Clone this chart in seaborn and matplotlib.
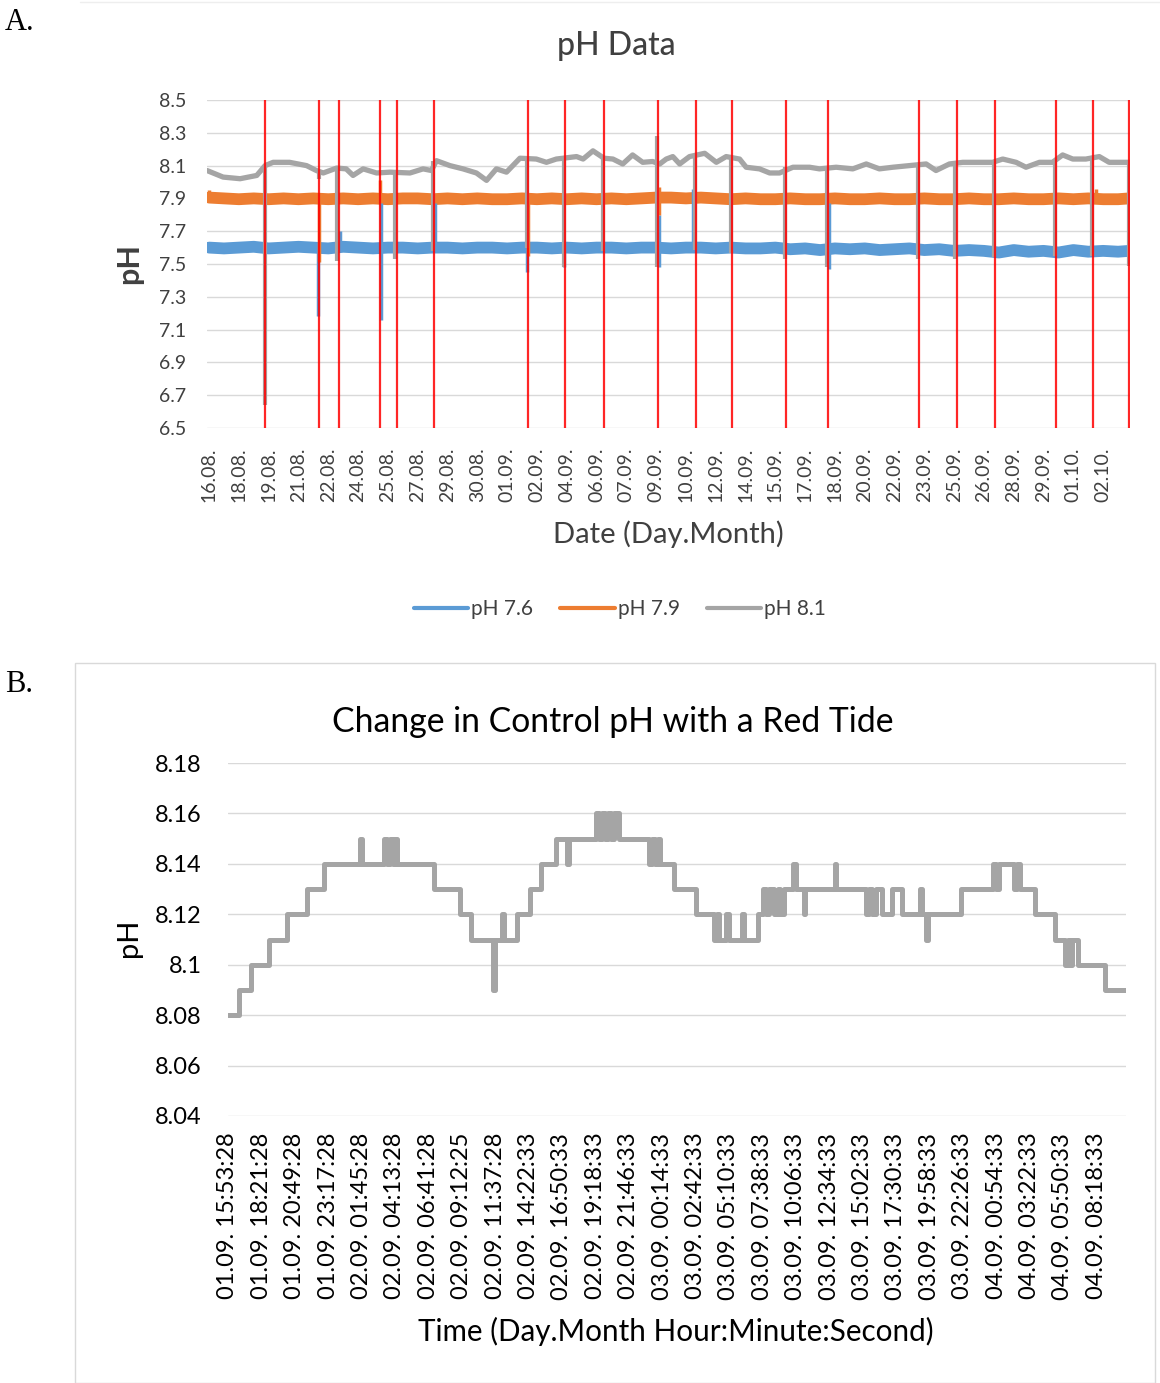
import numpy as np
import pandas as pd
import seaborn as sns
import matplotlib.pyplot as plt
from matplotlib.lines import Line2D
from matplotlib.patches import Rectangle

sns.set_theme(style="white")
plt.rcParams['font.family'] = ['Lato', 'DejaVu Sans']

# ---------------- panel A: pH of the three treatments ----------------
# x is measured in "date label" steps (label k sits at x = k)
date_labels = ['16.08.', '18.08.', '19.08.', '21.08.', '22.08.', '24.08.', '25.08.', '27.08.',
               '29.08.', '30.08.', '01.09.', '02.09.', '04.09.', '06.09.', '07.09.', '09.09.',
               '10.09.', '12.09.', '14.09.', '15.09.', '17.09.', '18.09.', '20.09.', '22.09.',
               '23.09.', '25.09.', '26.09.', '28.09.', '29.09.', '01.10.', '02.10.']

half_steps = [0, 0.5, 1, 1.5, 2, 2.5, 3, 3.5, 4, 4.5, 5, 5.5, 6, 6.5, 7, 7.5, 8, 8.5, 9, 9.5,
              10, 10.5, 11, 11.5, 12, 12.5, 13, 13.5, 14, 14.5, 15, 15.5, 16, 16.5, 17, 17.5,
              18, 18.5, 19, 19.5, 20, 20.5, 21, 21.5, 22, 22.5, 23, 23.5, 24, 24.5, 25, 25.5,
              26, 26.5, 27, 27.5, 28, 28.5, 29, 29.5, 30, 30.5, 30.87]

ph76 = [7.60, 7.595, 7.60, 7.605, 7.595, 7.60, 7.605, 7.60, 7.595, 7.605, 7.60,
        7.595, 7.60, 7.60, 7.595, 7.60, 7.60, 7.595, 7.60, 7.60, 7.595,
        7.60, 7.60, 7.595, 7.60, 7.595, 7.60, 7.60, 7.595, 7.60, 7.60,
        7.595, 7.60, 7.60, 7.595, 7.60, 7.595, 7.595, 7.60, 7.59, 7.595,
        7.585, 7.595, 7.59, 7.595, 7.585, 7.59, 7.595, 7.585, 7.59, 7.58,
        7.585, 7.58, 7.57, 7.585, 7.575, 7.58, 7.57, 7.585, 7.575, 7.58, 7.575,
        7.58]

ph79 = [7.905, 7.90, 7.895, 7.90, 7.895, 7.90, 7.895, 7.90, 7.895, 7.90, 7.895,
        7.90, 7.895, 7.90, 7.90, 7.895, 7.90, 7.895, 7.90, 7.895, 7.895,
        7.90, 7.895, 7.90, 7.895, 7.90, 7.895, 7.90, 7.895, 7.90, 7.905,
        7.905, 7.90, 7.905, 7.90, 7.895, 7.90, 7.895, 7.895, 7.90, 7.895,
        7.895, 7.90, 7.895, 7.895, 7.90, 7.895, 7.895, 7.90, 7.895, 7.895,
        7.90, 7.895, 7.895, 7.90, 7.895, 7.895, 7.90, 7.895, 7.90, 7.895, 7.895,
        7.90]

ph81_x = [-0.07, 0.47, 1.04, 1.6, 1.88, 2.15, 2.7, 3.27, 3.6, 3.83, 4.28, 4.6, 4.83, 5.17,
          5.62, 6.07, 6.74, 7.18, 7.46, 7.63, 8.08, 8.52, 8.97, 9.31, 9.64, 9.98, 10.43,
          10.98, 11.32, 11.65, 12.33, 12.55, 12.88, 13.25, 13.55, 13.88, 14.21, 14.55,
          14.88, 15.12, 15.34, 15.56, 15.79, 16.12, 16.63, 17.02, 17.35, 17.8, 18.02,
          18.47, 18.81, 19.14, 19.59, 20.15, 20.48, 21.04, 21.6, 22.05, 22.49, 22.94,
          23.5, 24.06, 24.39, 24.84, 25.29, 25.85, 26.29, 26.63, 27.08, 27.41, 27.86,
          28.3, 28.64, 28.98, 29.42, 29.87, 30.2, 30.76, 30.87]
ph81 = [8.07, 8.03, 8.02, 8.04, 8.10, 8.12, 8.12, 8.10, 8.07, 8.055, 8.085, 8.08, 8.04, 8.08,
        8.055, 8.06, 8.055, 8.08, 8.07, 8.13, 8.10, 8.08, 8.055, 8.01, 8.08, 8.06, 8.145,
        8.14, 8.12, 8.14, 8.155, 8.14, 8.19, 8.145, 8.14, 8.11, 8.165, 8.12,
        8.125, 8.11, 8.14, 8.155, 8.11, 8.155, 8.175, 8.12, 8.155, 8.14, 8.09,
        8.08, 8.055, 8.055, 8.09, 8.09, 8.08, 8.09, 8.08, 8.11, 8.08, 8.09,
        8.10, 8.11, 8.07, 8.11, 8.12, 8.12, 8.12, 8.14, 8.12, 8.09, 8.12,
        8.12, 8.165, 8.14, 8.14, 8.155, 8.12, 8.12, 8.12]

# short excursions when probes were taken out / recalibrated
dip81_x = [1.86, 3.68, 4.28, 6.25, 7.50, 10.66, 11.90, 13.21, 15.03, 16.31, 17.52, 19.31,
           20.73, 23.79, 25.04, 26.33, 28.38, 29.63, 30.85]
dip81_lo = [6.64, 8.02, 7.52, 7.53, 7.58, 7.60, 7.48, 7.58, 7.48, 7.585, 7.57, 7.53,
            7.48, 7.53, 7.53, 7.54, 7.55, 7.55, 7.49]
dip81_hi = [8.10, 8.07, 8.085, 8.06, 8.13, 8.145, 8.15, 8.145, 8.28, 8.155, 8.155, 8.09,
            8.08, 8.10, 8.11, 8.12, 8.12, 8.155, 8.12]

dip76_x = [3.66, 4.39, 5.76, 7.58, 10.68, 11.92, 15.09, 16.24, 20.80]
dip76_lo = [7.18, 7.58, 7.16, 7.58, 7.45, 7.48, 7.48, 7.58, 7.47]
dip76_hi = [7.60, 7.70, 7.87, 7.87, 7.60, 7.60, 7.80, 7.96, 7.87]

dip79_x = [0.0, 3.70, 5.73, 10.70, 15.10, 29.75]
dip79_lo = [7.88, 7.51, 7.88, 7.55, 7.80, 7.90]
dip79_hi = [7.95, 7.90, 8.01, 7.90, 7.97, 7.96]

# red markers (water changes / events)
event_x = [1.88, 3.70, 4.36, 5.73, 6.29, 7.53, 10.70, 11.94, 13.25, 15.06, 16.35, 17.56,
           19.35, 20.77, 23.83, 25.08, 26.37, 28.42, 29.67, 30.87]

# ---------------- panel B: control pH during a red tide ----------------
time_labels = ['01.09. 15:53:28', '01.09. 18:21:28', '01.09. 20:49:28', '01.09. 23:17:28',
               '02.09. 01:45:28', '02.09. 04:13:28', '02.09. 06:41:28', '02.09. 09:12:25',
               '02.09. 11:37:28', '02.09. 14:22:33', '02.09. 16:50:33', '02.09. 19:18:33',
               '02.09. 21:46:33', '03.09. 00:14:33', '03.09. 02:42:33', '03.09. 05:10:33',
               '03.09. 07:38:33', '03.09. 10:06:33', '03.09. 12:34:33', '03.09. 15:02:33',
               '03.09. 17:30:33', '03.09. 19:58:33', '03.09. 22:26:33', '04.09. 00:54:33',
               '04.09. 03:22:33', '04.09. 05:50:33', '04.09. 08:18:33']
label_every = 154  # records between labels

ctrl_record = [0, 51, 105, 189, 274, 366, 443, 607, 618, 720, 734, 748, 761, 771, 780, 951,
               1069, 1120, 1223, 1232, 1262, 1271, 1334, 1394, 1443, 1512, 1562, 1571, 1697,
               1712, 1726, 1740, 1754, 1768, 1781, 1805, 1943, 1957, 1971, 1984, 1994, 2058,
               2158, 2243, 2257, 2266, 2296, 2312, 2370, 2379, 2443, 2466, 2483, 2497, 2520,
               2534, 2547, 2566, 2607, 2617, 2654, 2663, 2797, 2806, 2943, 2956, 2970, 2989,
               3014, 3060, 3106, 3189, 3198, 3219, 3228, 3381, 3527, 3540, 3554, 3623, 3637,
               3650, 3720, 3812, 3858, 3872, 3883, 3890, 3920, 4043, 4140]
ctrl_ph = [8.08, 8.09, 8.10, 8.11, 8.12, 8.13, 8.14, 8.15, 8.14, 8.15, 8.14, 8.15, 8.14, 8.15,
           8.14, 8.13, 8.12, 8.11, 8.09, 8.11, 8.12, 8.11, 8.12, 8.13, 8.14, 8.15, 8.14, 8.15,
           8.16, 8.15, 8.16, 8.15, 8.16, 8.15, 8.16, 8.15, 8.14, 8.15, 8.14, 8.15, 8.14, 8.13,
           8.12, 8.11, 8.12, 8.11, 8.12, 8.11, 8.12, 8.11, 8.12, 8.13, 8.12, 8.13, 8.12,
           8.13, 8.12, 8.13, 8.14, 8.13, 8.12, 8.13, 8.14, 8.13, 8.12, 8.13, 8.12, 8.13,
           8.12, 8.13, 8.12, 8.13, 8.12, 8.11, 8.12, 8.13, 8.14, 8.13, 8.14, 8.13, 8.14,
           8.13, 8.12, 8.11, 8.10, 8.11, 8.10, 8.11, 8.10, 8.09, 8.09]

BLUE, ORANGE, GREY, RED = '#5B9BD5', '#ED7D31', '#A5A5A5', '#FF0000'
GRID = '#D9D9D9'
TXT = '#404040'
W, H = 1160, 1383

fig = plt.figure(figsize=(W / 100, H / 100), dpi=100)


def px_box(left, top, right, bottom):
    return [left / W, 1 - bottom / H, (right - left) / W, (bottom - top) / H]


# ---------- A ----------
axA = fig.add_axes(px_box(207, 100, 1130, 428))
sns.lineplot(x=half_steps, y=ph76, ax=axA, color=BLUE, lw=8.5, sort=False)
sns.lineplot(x=half_steps, y=ph79, ax=axA, color=ORANGE, lw=8.5, sort=False)
axA.vlines(dip76_x, dip76_lo, dip76_hi, color=BLUE, lw=2.5)
axA.vlines(dip79_x, dip79_lo, dip79_hi, color=ORANGE, lw=2.5)
sns.lineplot(x=ph81_x, y=ph81, ax=axA, color=GREY, lw=3.8, sort=False)
axA.vlines(dip81_x, dip81_lo, dip81_hi, color=GREY, lw=3)
axA.vlines(event_x, 6.5, 8.5, color=RED, lw=1.6, alpha=0.85, zorder=5)

axA.set_xlim(-0.07, 30.9)
axA.set_ylim(6.5, 8.5)
axA.set_yticks(np.arange(6.5, 8.51, 0.2))
axA.set_yticklabels([f'{v:.1f}' for v in np.arange(6.5, 8.51, 0.2)])
axA.set_xticks(range(len(date_labels)))
axA.set_xticklabels(date_labels, rotation=90, va='top', ha='center')
axA.tick_params(axis='y', length=0, pad=15, labelsize=14, labelcolor=TXT)
axA.tick_params(axis='x', length=0, pad=14, labelsize=14, labelcolor=TXT)
axA.grid(axis='y', color=GRID, lw=1)
axA.grid(axis='x', visible=False)
for s in axA.spines.values():
    s.set_visible(False)
axA.set_xlabel('')
axA.set_ylabel('')

fig.text(616 / W, 1 - 46 / H, 'pH Data', ha='center', va='center', fontsize=23,
         fontweight='medium', color=TXT)
fig.text(129 / W, 1 - 264 / H, 'pH', ha='center', va='center', rotation=90, fontsize=22,
         fontweight='bold', color=TXT)
fig.text(668 / W, 1 - 534 / H, 'Date (Day.Month)', ha='center', va='center', fontsize=21,
         color=TXT)

handles = [Line2D([], [], color=c, lw=3) for c in (BLUE, ORANGE, GREY)]
fig.legend(handles, ['pH 7.6', 'pH 7.9', 'pH 8.1'], loc='center', ncol=3,
           bbox_to_anchor=(620 / W, 1 - 609 / H), frameon=False, fontsize=15,
           handlelength=2.6, handletextpad=0.15, columnspacing=1.3, labelcolor=TXT)

# ---------- B ----------
axB = fig.add_axes(px_box(228, 763, 1126, 1116))
sns.lineplot(x=ctrl_record, y=ctrl_ph, ax=axB, color=GREY, lw=3.6, sort=False,
             drawstyle='steps-post')
axB.set_xlim(0, 4141)
axB.set_ylim(8.04, 8.18)
b_ticks = [8.04, 8.06, 8.08, 8.10, 8.12, 8.14, 8.16, 8.18]
axB.set_yticks(b_ticks)
axB.set_yticklabels([f'{v:g}' for v in b_ticks])
axB.set_xticks([i * label_every for i in range(len(time_labels))])
axB.set_xticklabels(time_labels, rotation=90, va='top', ha='center')
axB.tick_params(axis='y', length=0, pad=19, labelsize=17, labelcolor='black')
axB.tick_params(axis='x', length=0, pad=12, labelsize=17, labelcolor='black')
axB.grid(axis='y', color=GRID, lw=1)
axB.grid(axis='x', visible=False)
for s in axB.spines.values():
    s.set_visible(False)
axB.set_xlabel('')
axB.set_ylabel('')

fig.text(613 / W, 1 - 722 / H, 'Change in Control pH with a Red Tide', ha='center',
         va='center', fontsize=24.3, color='black')
fig.text(129 / W, 1 - 938 / H, 'pH', ha='center', va='center', rotation=90, fontsize=21,
         color='black')
fig.text(676 / W, 1 - 1331 / H, 'Time (Day.Month Hour:Minute:Second)', ha='center',
         va='center', fontsize=21.3, color='black')

# panel frames and letters
fig.patches.append(Rectangle((75 / W, 0.5 / H), 1080 / W, 720 / H, transform=fig.transFigure,
                             fill=False, edgecolor=GRID, lw=1))
fig.lines.append(Line2D([80 / W, 1], [1 - 2 / H, 1 - 2 / H], transform=fig.transFigure,
                        color='#EEEEEE', lw=1))
fig.text(5 / W, 1 - 22 / H, 'A.', ha='left', va='center', fontsize=22,
         family='Liberation Serif', color='black')
fig.text(5 / W, 1 - 684 / H, 'B.', ha='left', va='center', fontsize=22,
         family='Liberation Serif', color='black')

fig.savefig('out.png', dpi=100)
